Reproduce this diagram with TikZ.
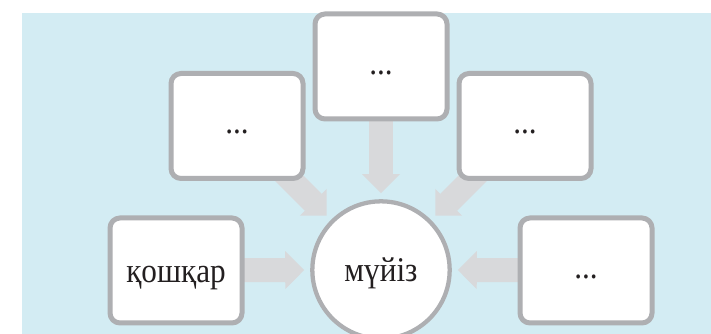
\documentclass[tikz,border=0pt]{standalone}
\usepackage{fontspec}
\setmainfont{Liberation Serif}[FakeStretch=0.9]
\usetikzlibrary{arrows.meta,backgrounds}
\definecolor{bgblue}{HTML}{D3ECF3}
\definecolor{arrgray}{HTML}{D8D9DB}
\definecolor{bordgray}{HTML}{AEAFB2}
\definecolor{txt}{HTML}{231F20}
\begin{document}
\begin{tikzpicture}[x=0.75pt,y=-0.75pt,font=\fontsize{26}{30}\selectfont,
box/.style={draw=bordgray,fill=white,line width=3.75pt,rounded corners=7.5pt,minimum width=99pt,minimum height=78.75pt,text height=12pt,text depth=0pt,text=txt},
ring/.style={circle,draw=bordgray,fill=white,line width=3.2pt,minimum size=103pt,text height=18pt,text depth=0pt,text=txt},
fat/.style={draw=arrgray,line width=18pt,-{Triangle[width=28.5pt,length=14.25pt,line width=0pt]},shorten >=4.5pt}]
\useasboundingbox(0,0)rectangle(711,334);
\node[ring](c)at(381,270){мүйіз};
\node[box](t)at(381,66.5){...};
\node[box](ul)at(237,126){...};
\node[box](ur)at(525,126){...};
\node[box,text height=18pt](q)at(176,270.5){қошқар};
\node[box](r)at(586,270.5){...};
\begin{scope}[on background layer]
\fill[bgblue](22,13)rectangle(711,334);
\draw[fat](t.center)--(c.north);
\draw[fat](ul.center)--(c.north west);
\draw[fat](ur.center)--(c.north east);
\draw[fat](q.center)--(c.west);
\draw[fat](r.center)--(c.east);
\end{scope}
\end{tikzpicture}
\end{document}
